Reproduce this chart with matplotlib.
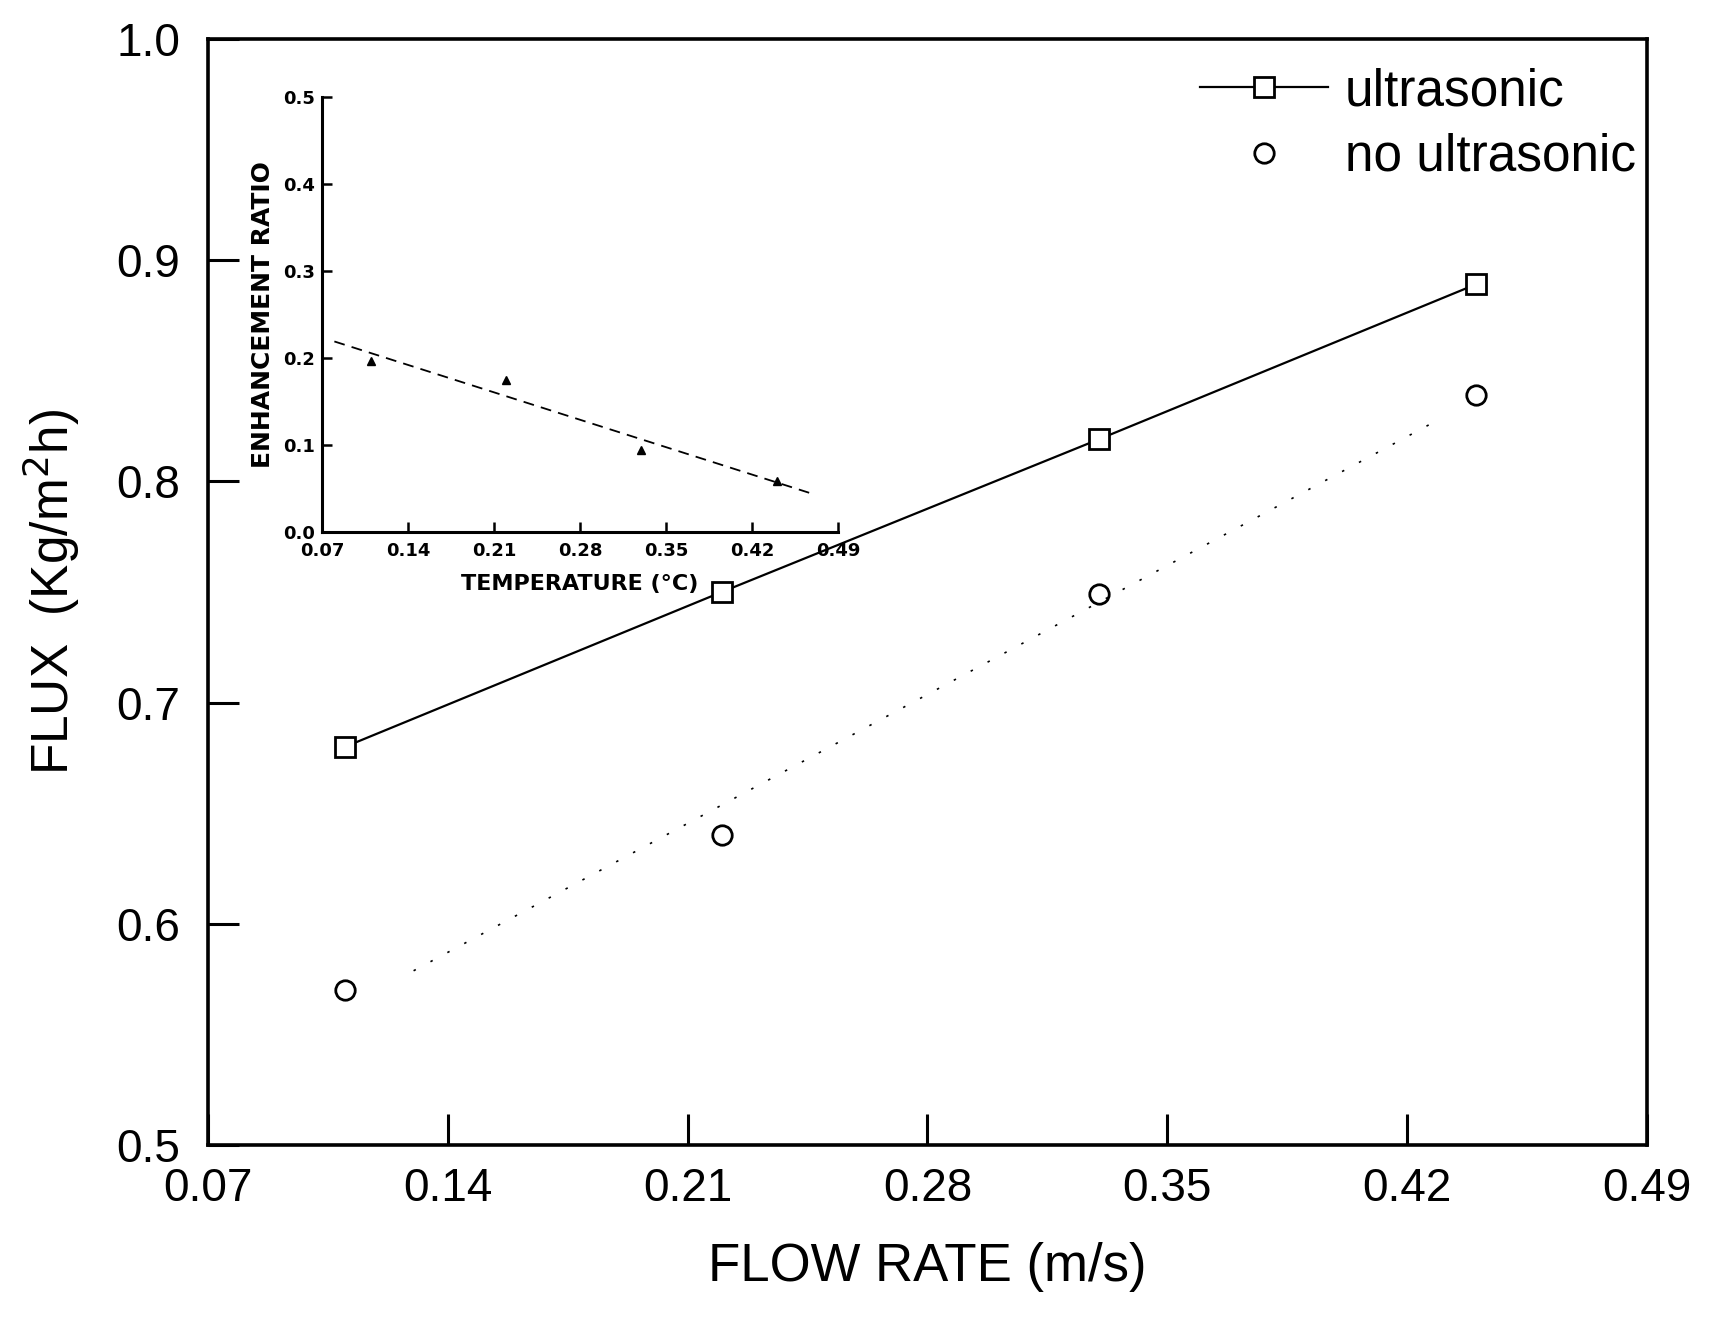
import numpy as np
import matplotlib
matplotlib.use('Agg')
from matplotlib import pyplot as plt

plt.rcParams['font.family'] = ['Liberation Sans', 'DejaVu Sans']

# main plot data
flow_rate = [0.11, 0.22, 0.33, 0.44]
flux_ultra = [0.680, 0.750, 0.819, 0.889]
flux_no_ultra = [0.570, 0.640, 0.749, 0.839]
x_ticks = [0.07, 0.14, 0.21, 0.28, 0.35, 0.42, 0.49]
y_ticks = [0.5, 0.6, 0.7, 0.8, 0.9, 1.0]
fit_range = [0.13, 0.43]

# inset data
inset_x = [0.11, 0.22, 0.33, 0.44]
inset_ratio = [0.197, 0.175, 0.094, 0.059]
inset_y_ticks = [0.0, 0.1, 0.2, 0.3, 0.4, 0.5]
inset_fit_range = [0.08, 0.47]

fig = plt.figure(figsize=(17.15, 13.2), dpi=100)
ax = fig.add_axes([0.1213, 0.1326, 0.8390, 0.8379])

ax.plot(flow_rate, flux_ultra, color='black', lw=1.6, marker='s', ms=14,
        mfc='white', mec='black', mew=2, label='ultrasonic')
ax.plot(flow_rate, flux_no_ultra, ls='none', marker='o', ms=14,
        mfc='white', mec='black', mew=2, label='no ultrasonic')

# linear fit through the no-ultrasonic points (sparse dotted)
k, b = np.polyfit(flow_rate, flux_no_ultra, 1)
fx = np.array(fit_range)
ax.plot(fx, k * fx + b, color='black', lw=1.2, ls=(0, (1.5, 10)))

ax.set_xlim(0.07, 0.49)
ax.set_ylim(0.5, 1.0)
ax.set_xticks(x_ticks)
ax.set_yticks(y_ticks)
ax.set_xticklabels([f'{v:.2f}' for v in x_ticks])
ax.set_yticklabels([f'{v:.1f}' for v in y_ticks])
ax.tick_params(direction='in', length=22, width=2.2, labelsize=33)
ax.tick_params(axis='x', pad=16)
ax.tick_params(axis='y', pad=20)
for s in ax.spines.values():
    s.set_linewidth(2.6)

ax.set_xlabel('FLOW RATE (m/s)', fontsize=38, labelpad=22)
ax.set_ylabel('FLUX  (Kg/m$^2$h)', fontsize=37, labelpad=25)

leg = ax.legend(loc='upper right', fontsize=37, frameon=False, handlelength=2.5,
                handletextpad=0.32, labelspacing=0.32, borderaxespad=0.15,
                bbox_to_anchor=(1.012, 1.0))

# inset
ins = fig.add_axes([0.1878, 0.597, 0.3008, 0.3295])
ins.plot(inset_x, inset_ratio, ls='none', marker='^', ms=6, color='black')
k2, b2 = np.polyfit(inset_x, inset_ratio, 1)
ix = np.array(inset_fit_range)
ins.plot(ix, k2 * ix + b2, color='black', lw=1.3, ls=(0, (6, 4)))
ins.set_xlim(0.07, 0.49)
ins.set_ylim(0.0, 0.5)
ins.set_xticks(x_ticks)
ins.set_yticks(inset_y_ticks)
ins.set_xticklabels([f'{v:.2f}' for v in x_ticks])
ins.set_yticklabels([f'{v:.1f}' for v in inset_y_ticks])
ins.spines['top'].set_visible(False)
ins.spines['right'].set_visible(False)
for s in ('left', 'bottom'):
    ins.spines[s].set_linewidth(2.2)
ins.tick_params(direction='in', length=7, width=1.8, labelsize=13)
ins.tick_params(axis='x', pad=7)
ins.tick_params(axis='y', pad=5)
for lab in ins.get_xticklabels() + ins.get_yticklabels():
    lab.set_fontweight('bold')
    lab.set_family('DejaVu Sans')
ins.set_xlabel('TEMPERATURE (°C)', fontsize=16, fontweight='bold',
               family='DejaVu Sans', labelpad=10)
ins.set_ylabel('ENHANCEMENT RATIO', fontsize=18, fontweight='bold',
               family='DejaVu Sans', labelpad=6)

fig.savefig('out.png', dpi=100)
